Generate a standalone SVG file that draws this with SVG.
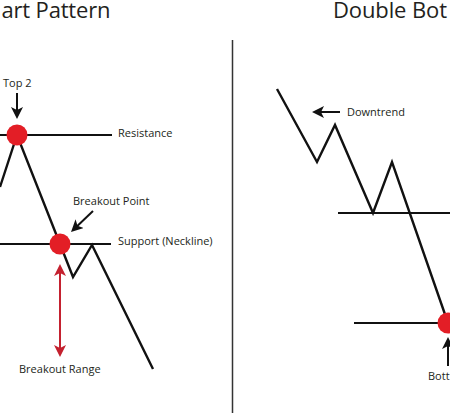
<svg xmlns="http://www.w3.org/2000/svg" width="450" height="413" viewBox="0 0 450 413">
<style>
.t{font-family:"Open Sans","Liberation Sans",sans-serif;font-size:11px;fill:#231f20}
.h{font-family:"Open Sans","Liberation Sans",sans-serif;font-size:22px;fill:#231f20}
.ln{stroke:#111;stroke-width:2.4;fill:none;stroke-linejoin:miter;stroke-miterlimit:10}
.hl{stroke:#111;stroke-width:2.2;fill:none}
.ab{stroke:#111;stroke-width:2;fill:none}
.rd{stroke:#c4212f;stroke-width:2;fill:none}
.dot{fill:#e31e26}
.div{stroke:#333;stroke-width:1.5}
</style>
<defs>
<marker id="mb" viewBox="0 0 12 12" refX="8" refY="6" markerWidth="12" markerHeight="12" markerUnits="userSpaceOnUse" orient="auto-start-reverse"><path d="M0,0 L12,6 L0,12 L3,6 z" fill="#111"/></marker>
<marker id="mr" viewBox="0 0 12 12" refX="8" refY="6" markerWidth="12" markerHeight="12" markerUnits="userSpaceOnUse" orient="auto-start-reverse"><path d="M0,0 L12,6 L0,12 L3,6 z" fill="#c4212f"/></marker>
</defs>
<rect width="450" height="413" fill="#fff"/>
<g id="titles">
<text class="h" x="1.5" y="18" textLength="109">art Pattern</text>
<text class="h" x="333" y="18" textLength="114">Double Bot</text>
</g>
<g id="connectors">
<line class="div" x1="232.5" y1="40" x2="232.5" y2="413"/>
<line class="hl" x1="0" y1="135" x2="112" y2="135"/>
<line class="hl" x1="0" y1="244" x2="111" y2="244"/>
<polyline class="ln" points="0,187 17,135 60,244 73,277 92,245 153,369"/>
<line class="hl" x1="338" y1="213" x2="450" y2="213"/>
<line class="hl" x1="354" y1="323" x2="448" y2="323"/>
<polyline class="ln" points="277,89 317,162 335,125 373,213 392,162 448,323"/>
<line class="ab" x1="17" y1="93" x2="17" y2="115" marker-end="url(#mb)"/>
<line class="ab" x1="93" y1="211" x2="73.9" y2="229.2" marker-end="url(#mb)"/>
<line class="ab" x1="340" y1="112" x2="316" y2="112" marker-end="url(#mb)"/>
<line class="ab" x1="448" y1="366" x2="448" y2="341" marker-end="url(#mb)"/>
<line class="rd" x1="60" y1="268" x2="60" y2="353" marker-start="url(#mr)" marker-end="url(#mr)"/>
</g>
<g id="top2"><circle class="dot" cx="17" cy="135" r="10.5"/><text class="t" x="3" y="87">Top 2</text></g>
<g id="resistance"><text class="t" x="118" y="136.5">Resistance</text></g>
<g id="breakout-point"><circle class="dot" cx="60" cy="244" r="10.5"/><text class="t" x="73" y="205">Breakout Point</text></g>
<g id="support"><text class="t" x="118" y="245">Support (Neckline)</text></g>
<g id="breakout-range"><text class="t" x="19" y="373">Breakout Range</text></g>
<g id="downtrend"><text class="t" x="347" y="116">Downtrend</text></g>
<g id="bottom1"><circle class="dot" cx="448" cy="323" r="10.5"/><text class="t" x="428" y="380">Bott</text></g>
</svg>
